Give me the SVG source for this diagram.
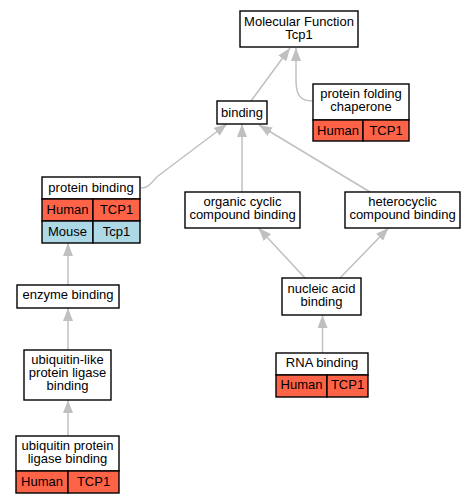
<svg xmlns="http://www.w3.org/2000/svg" width="476" height="504" viewBox="0 0 476 504">
<defs>
<style>
text{font-family:"Liberation Sans",Arial,sans-serif;font-size:13px;fill:#000;text-anchor:middle}
.box{fill:#fff;stroke:#000;stroke-width:1.4}
.hu{fill:#ff6347;stroke:#000;stroke-width:1.4}
.mo{fill:#add8e6;stroke:#000;stroke-width:1.4}
.e{fill:none;stroke:#c0c0c0;stroke-width:1.5;marker-end:url(#ah)}
</style>
<marker id="ah" viewBox="0 0 13 10" refX="13" refY="5" markerWidth="13" markerHeight="10" markerUnits="userSpaceOnUse" orient="auto">
<path d="M0,0 L13,5 L0,10 z" fill="#c0c0c0"/>
</marker>
</defs>
<rect width="476" height="504" fill="#fff"/>
<g id="edges">
<path class="e" d="M251,101 L290,48"/>
<path class="e" d="M313,101 C300,101 296,95 296,80 L296,48"/>
<path class="e" d="M141,188 C150,188 152,181 158,176 L227,124"/>
<path class="e" d="M242,192 L242,124"/>
<path class="e" d="M370,192 L259,125"/>
<path class="e" d="M305,278 L258.5,228"/>
<path class="e" d="M340,278 L388.5,228"/>
<path class="e" d="M322.5,353 L322.5,315"/>
<path class="e" d="M68,285 L68,243"/>
<path class="e" d="M68,350 L68,308"/>
<path class="e" d="M68,436 L68,400"/>
</g>
<g id="mf">
<rect class="box" x="240" y="11" width="118" height="36"/>
<text x="299" y="25.5">Molecular Function</text>
<text x="299" y="39">Tcp1</text>
</g>
<g id="binding">
<rect class="box" x="217" y="101" width="50" height="23"/>
<text x="242" y="116.5">binding</text>
</g>
<g id="chaperone">
<rect class="box" x="313" y="84" width="96" height="36"/>
<text x="361" y="98">protein folding</text>
<text x="361" y="111">chaperone</text>
<rect class="hu" x="313" y="120" width="50" height="21"/>
<rect class="hu" x="363" y="120" width="46" height="21"/>
<text x="338" y="134.5">Human</text>
<text x="386" y="134.5">TCP1</text>
</g>
<g id="proteinbinding">
<rect class="box" x="42" y="177" width="98" height="22"/>
<text x="91" y="191.5">protein binding</text>
<rect class="hu" x="42" y="199" width="51" height="22"/>
<rect class="hu" x="93" y="199" width="47" height="22"/>
<text x="67.5" y="213.5">Human</text>
<text x="116.5" y="213.5">TCP1</text>
<rect class="mo" x="42" y="221" width="51" height="22"/>
<rect class="mo" x="93" y="221" width="47" height="22"/>
<text x="67.5" y="235.5">Mouse</text>
<text x="116.5" y="235.5">Tcp1</text>
</g>
<g id="organic">
<rect class="box" x="185" y="192" width="115" height="36"/>
<text x="242.5" y="206">organic cyclic</text>
<text x="242.5" y="219">compound binding</text>
</g>
<g id="hetero">
<rect class="box" x="345" y="192" width="115" height="36"/>
<text x="402.5" y="206">heterocyclic</text>
<text x="402.5" y="219">compound binding</text>
</g>
<g id="nucleic">
<rect class="box" x="282" y="278" width="79" height="37"/>
<text x="321.5" y="292.5">nucleic acid</text>
<text x="321.5" y="305.5">binding</text>
</g>
<g id="rna">
<rect class="box" x="276" y="353" width="92" height="22"/>
<text x="322" y="367">RNA binding</text>
<rect class="hu" x="276" y="375" width="51" height="22"/>
<rect class="hu" x="327" y="375" width="41" height="22"/>
<text x="301.5" y="389">Human</text>
<text x="347.5" y="389">TCP1</text>
</g>
<g id="enzyme">
<rect class="box" x="17" y="285" width="102" height="23"/>
<text x="68" y="299">enzyme binding</text>
</g>
<g id="ubiqlike">
<rect class="box" x="24" y="350" width="87" height="50"/>
<text x="67.5" y="364">ubiquitin-like</text>
<text x="67.5" y="377">protein ligase</text>
<text x="67.5" y="390">binding</text>
</g>
<g id="ubiqprot">
<rect class="box" x="16" y="436" width="103" height="35"/>
<text x="67.5" y="449.5">ubiquitin protein</text>
<text x="67.5" y="462.5">ligase binding</text>
<rect class="hu" x="16" y="471" width="52" height="22"/>
<rect class="hu" x="68" y="471" width="51" height="22"/>
<text x="42" y="485.5">Human</text>
<text x="93.5" y="485.5">TCP1</text>
</g>
</svg>
